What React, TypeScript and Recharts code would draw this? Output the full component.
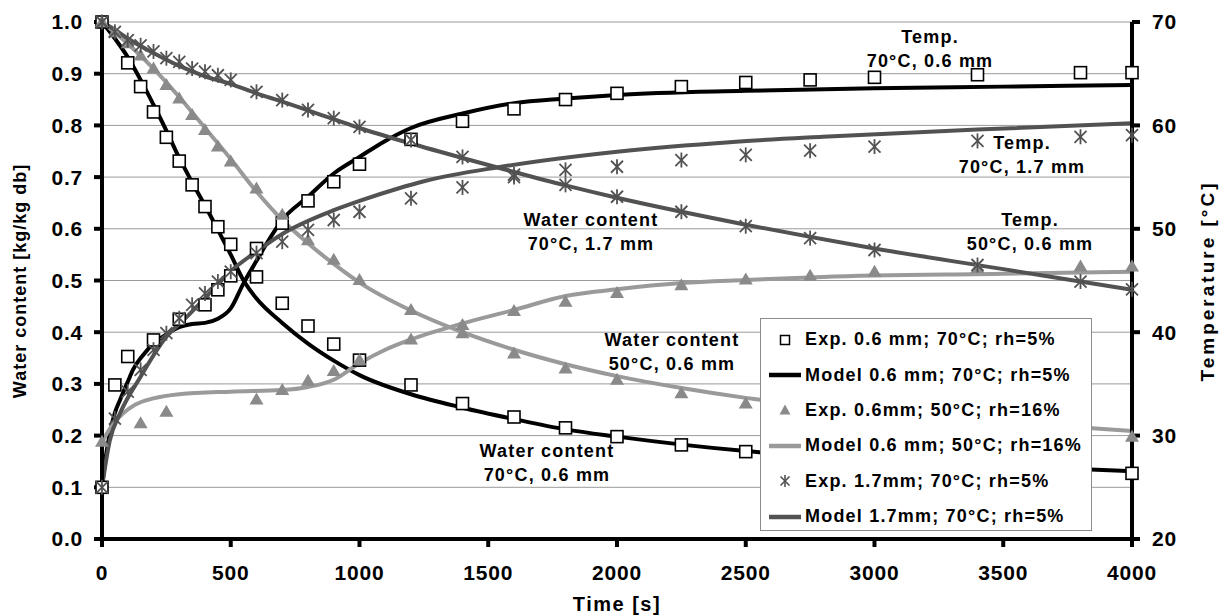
import React from "react";
import { ComposedChart, Line, Scatter, XAxis, YAxis, CartesianGrid } from "recharts";

// ---------- data (time [s], value) ----------
// Water content [kg/kg db] on left axis, temperature [°C] on right axis
const exp06_70_wc: [number, number][] = [
  [0, 1.0], [100, 0.921], [150, 0.875], [200, 0.826], [250, 0.777], [300, 0.731], [350, 0.685],
  [400, 0.643], [450, 0.604], [500, 0.57], [600, 0.507], [700, 0.456], [800, 0.412], [900, 0.377],
  [1000, 0.346], [1200, 0.298], [1400, 0.262], [1600, 0.236], [1800, 0.215], [2000, 0.198],
  [2250, 0.182], [2500, 0.169], [2750, 0.158], [3000, 0.15], [3400, 0.14], [3800, 0.132], [4000, 0.127],
];
const exp06_70_T: [number, number][] = [
  [0, 25], [50, 34.9], [100, 37.65], [200, 39.25], [300, 41.25], [400, 42.65], [450, 44.1],
  [500, 45.45], [600, 48.1], [700, 50.55], [800, 52.7], [900, 54.55], [1000, 56.25], [1200, 58.65],
  [1400, 60.4], [1600, 61.6], [1800, 62.5], [2000, 63.1], [2250, 63.75], [2500, 64.15], [2750, 64.4],
  [3000, 64.65], [3400, 64.9], [3800, 65.1], [4000, 65.1],
];
const model06_70_wc: [number, number][] = [
  [0, 1.0], [50, 0.968], [100, 0.932], [150, 0.888], [200, 0.84], [250, 0.79], [300, 0.737],
  [350, 0.69], [400, 0.645], [450, 0.598], [500, 0.55], [550, 0.5], [600, 0.465], [700, 0.418],
  [800, 0.378], [900, 0.345], [1000, 0.317], [1200, 0.28], [1400, 0.254], [1600, 0.232],
  [1800, 0.212], [2000, 0.198], [2500, 0.17], [3000, 0.153], [3500, 0.141], [4000, 0.131],
];
const model06_70_T: [number, number][] = [
  [0, 25], [15, 28], [30, 30.2], [50, 32.2], [70, 33.45], [100, 35.2], [120, 36.35], [160, 37.8],
  [200, 38.9], [250, 39.8], [300, 40.5], [350, 40.8], [400, 40.9], [450, 41.3], [500, 42.3],
  [550, 44.75], [600, 46.9], [640, 48.6], [700, 50.85], [800, 53.1], [900, 55.35], [1000, 56.95],
  [1100, 58.5], [1200, 59.75], [1400, 61.15], [1600, 62.15], [1800, 62.6], [2000, 62.95],
  [2500, 63.35], [3000, 63.6], [3500, 63.75], [4000, 63.9],
];
const exp06_50_wc: [number, number][] = [
  [0, 1.0], [50, 0.98], [100, 0.959], [150, 0.935], [200, 0.91], [250, 0.878], [300, 0.852],
  [350, 0.82], [400, 0.791], [450, 0.759], [500, 0.73], [600, 0.678], [700, 0.627], [800, 0.578],
  [900, 0.54], [1000, 0.501], [1200, 0.443], [1400, 0.398], [1600, 0.359], [1800, 0.33],
  [2000, 0.308], [2250, 0.282], [2500, 0.262], [2750, 0.245], [3000, 0.232], [3400, 0.218],
  [3800, 0.205], [4000, 0.198],
];
const exp06_50_T: [number, number][] = [
  [0, 29.4], [150, 31.2], [250, 32.3], [600, 33.5], [700, 34.4], [800, 35.3], [900, 36.25],
  [1000, 37.3], [1200, 39.3], [1400, 40.7], [1600, 42.05], [1800, 42.95], [2000, 43.8],
  [2250, 44.55], [2500, 45.1], [2750, 45.45], [3000, 45.85], [3400, 46.2], [3800, 46.35], [4000, 46.35],
];
const model06_50_wc: [number, number][] = [
  [0, 1.0], [100, 0.958], [200, 0.91], [300, 0.855], [400, 0.795], [500, 0.735], [600, 0.672],
  [700, 0.617], [800, 0.572], [900, 0.532], [1000, 0.496], [1200, 0.442], [1400, 0.4], [1600, 0.366],
  [1800, 0.338], [2000, 0.315], [2250, 0.292], [2500, 0.273], [3000, 0.247], [3500, 0.226], [4000, 0.209],
];
const model06_50_T: [number, number][] = [
  [0, 29.4], [40, 31.0], [80, 32.1], [130, 33.0], [200, 33.6], [300, 34.0], [500, 34.25],
  [700, 34.4], [800, 34.7], [900, 35.4], [1000, 37.0], [1100, 38.3], [1200, 39.3], [1400, 40.85],
  [1600, 42.15], [1800, 43.5], [2000, 44.15], [2250, 44.75], [2500, 45.05], [2800, 45.35],
  [3500, 45.65], [4000, 45.85],
];
const exp17_70_wc: [number, number][] = [
  [0, 1.0], [50, 0.981], [100, 0.965], [150, 0.955], [200, 0.943], [250, 0.93], [300, 0.923],
  [350, 0.91], [400, 0.904], [450, 0.897], [500, 0.888], [600, 0.865], [700, 0.849], [800, 0.83],
  [900, 0.814], [1000, 0.797], [1200, 0.772], [1400, 0.739], [1600, 0.705], [1800, 0.685],
  [2000, 0.662], [2250, 0.633], [2500, 0.605], [2750, 0.582], [3000, 0.559], [3400, 0.53],
  [3800, 0.498], [4000, 0.483],
];
const exp17_70_T: [number, number][] = [
  [0, 25], [50, 31.65], [100, 34.25], [150, 36.35], [200, 38.3], [250, 39.9], [300, 41.35],
  [350, 42.65], [400, 43.75], [450, 44.9], [500, 45.85], [600, 47.65], [700, 48.75], [800, 49.9],
  [900, 50.85], [1000, 51.65], [1200, 52.95], [1400, 54.0], [1600, 55.0], [1800, 55.7], [2000, 56.0],
  [2250, 56.65], [2500, 57.15], [2750, 57.55], [3000, 57.95], [3400, 58.5], [3800, 58.9], [4000, 59.05],
];
const model17_70_wc: [number, number][] = [
  [0, 1.0], [50, 0.985], [100, 0.968], [200, 0.94], [300, 0.915], [400, 0.895], [500, 0.88],
  [600, 0.862], [700, 0.846], [800, 0.829], [900, 0.812], [1000, 0.795], [1200, 0.765],
  [1400, 0.737], [1600, 0.71], [1800, 0.684], [2000, 0.66], [2500, 0.608], [3000, 0.562],
  [3500, 0.522], [4000, 0.482],
];
const model17_70_T: [number, number][] = [
  [0, 25], [30, 29.5], [70, 32.15], [150, 35.7], [250, 39.55], [330, 41.5], [400, 43.3],
  [500, 45.9], [600, 47.8], [700, 49.5], [900, 51.8], [1000, 52.7], [1150, 53.9], [1250, 54.6],
  [1550, 56.0], [2000, 57.45], [2450, 58.4], [2800, 58.9], [3400, 59.6], [4000, 60.2],
];

const xTicks = [0, 500, 1000, 1500, 2000, 2500, 3000, 3500, 4000];
const leftTicks = [0, 0.1, 0.2, 0.3, 0.4, 0.5, 0.6, 0.7, 0.8, 0.9, 1.0];
const rightTicks = [20, 30, 40, 50, 60, 70];

const legendItems = [
  { name: "Exp. 0.6 mm; 70°C; rh=5%", kind: "square" },
  { name: "Model 0.6 mm; 70°C; rh=5%", kind: "line", color: "#000000" },
  { name: "Exp. 0.6mm; 50°C; rh=16%", kind: "triangle" },
  { name: "Model 0.6 mm; 50°C; rh=16%", kind: "line", color: "#9a9a9a" },
  { name: "Exp. 1.7mm; 70°C; rh=5%", kind: "star" },
  { name: "Model 1.7mm; 70°C; rh=5%", kind: "line", color: "#525252" },
];

const annotationTexts = [
  ["Temp.", "70°C, 0.6 mm"],
  ["Temp.", "70°C, 1.7 mm"],
  ["Temp.", "50°C, 0.6 mm"],
  ["Water content", "70°C, 1.7 mm"],
  ["Water content", "50°C, 0.6 mm"],
  ["Water content", "70°C, 0.6 mm"],
];
// layout (pixel centres of the annotation blocks)
const annotationPos = [
  { x: 930, y: 49 },
  { x: 1022, y: 155 },
  { x: 1030, y: 232 },
  { x: 591, y: 232 },
  { x: 672, y: 352 },
  { x: 547, y: 463 },
];

const toPts = (arr: [number, number][]) => arr.map(([t, v]) => ({ t, v }));

const FONT = '"Liberation Sans", Arial, Helvetica, sans-serif';
const BLACK = "#000000";
const GREY_TRI = "#8a8a8a";
const GREY_LIGHT = "#9a9a9a";
const GREY_DARK = "#525252";

const SquareShape = (p: any) => {
  const { cx, cy } = p;
  if (cx == null || cy == null) return null;
  return <rect x={cx - 6} y={cy - 6} width={12} height={12} fill="#fff" stroke={BLACK} strokeWidth={1.6} />;
};
const TriangleShape = (p: any) => {
  const { cx, cy } = p;
  if (cx == null || cy == null) return null;
  return <polygon points={`${cx},${cy - 7} ${cx + 7},${cy + 5} ${cx - 7},${cy + 5}`} fill={GREY_TRI} />;
};
const StarShape = (p: any) => {
  const { cx, cy } = p;
  if (cx == null || cy == null) return null;
  return (
    <g stroke={GREY_DARK} strokeWidth={1.8}>
      <line x1={cx - 6} y1={cy - 6} x2={cx + 6} y2={cy + 6} />
      <line x1={cx - 6} y1={cy + 6} x2={cx + 6} y2={cy - 6} />
      <line x1={cx} y1={cy - 7.5} x2={cx} y2={cy + 7.5} />
    </g>
  );
};

const tickStyle = { fontSize: 21, fontWeight: "bold", fill: "#000", fontFamily: FONT, letterSpacing: 0.8 } as any;

function LegendIcon({ kind, color }: { kind: string; color?: string }) {
  return (
    <svg width={36} height={20} style={{ display: "block" }}>
      {kind === "square" && <rect x={13.5} y={5.5} width={9} height={9} fill="#fff" stroke="#000" strokeWidth={1.5} />}
      {kind === "line" && <line x1={2} y1={10} x2={34} y2={10} stroke={color} strokeWidth={4.5} />}
      {kind === "triangle" && <polygon points="18,4.5 23.5,14.5 12.5,14.5" fill={GREY_TRI} />}
      {kind === "star" && (
        <g stroke={GREY_DARK} strokeWidth={1.6}>
          <line x1={13.5} y1={5.5} x2={22.5} y2={14.5} />
          <line x1={13.5} y1={14.5} x2={22.5} y2={5.5} />
          <line x1={18} y1={4} x2={18} y2={16} />
        </g>
      )}
    </svg>
  );
}

export default function App() {
  const textBase: React.CSSProperties = {
    position: "absolute",
    fontFamily: FONT,
    fontWeight: "bold",
    color: "#000",
    whiteSpace: "nowrap",
  };
  return (
    <div style={{ position: "absolute", left: 0, top: 0, width: 1222, height: 616, background: "#fff" }}>
      <ComposedChart width={1222} height={616} margin={{ top: 22, right: 0, bottom: 0, left: 0 }}>
        <CartesianGrid yAxisId="left" vertical={false} stroke="#9a9a9a" strokeWidth={1} horizontalValues={leftTicks} />
        <XAxis
          dataKey="t"
          type="number"
          domain={[0, 4000]}
          ticks={xTicks}
          height={77}
          tick={tickStyle}
          tickSize={8}
          tickMargin={18}
          axisLine={{ stroke: "#000", strokeWidth: 4 }}
          tickLine={{ stroke: "#000", strokeWidth: 4 }}
          interval={0}
          allowDuplicatedCategory={false}
        />
        <YAxis
          yAxisId="left"
          dataKey="v"
          type="number"
          domain={[0, 1]}
          ticks={leftTicks}
          tickFormatter={(v: number) => v.toFixed(1)}
          width={102}
          tick={tickStyle}
          tickSize={8}
          tickMargin={11}
          axisLine={{ stroke: "#000", strokeWidth: 4 }}
          tickLine={{ stroke: "#000", strokeWidth: 4 }}
          interval={0}
        />
        <YAxis
          yAxisId="right"
          orientation="right"
          dataKey="v"
          type="number"
          domain={[20, 70]}
          ticks={rightTicks}
          width={90}
          tick={tickStyle}
          tickSize={8}
          tickMargin={12}
          axisLine={{ stroke: "#000", strokeWidth: 4 }}
          tickLine={{ stroke: "#000", strokeWidth: 4 }}
          interval={0}
        />

        {/* series 1 */}
        <Scatter yAxisId="left" data={toPts(exp06_70_wc)} shape={SquareShape} isAnimationActive={false} />
        <Scatter yAxisId="right" data={toPts(exp06_70_T)} shape={SquareShape} isAnimationActive={false} />
        <Line yAxisId="left" data={toPts(model06_70_wc)} dataKey="v" type="monotone" stroke={BLACK} strokeWidth={4} dot={false} isAnimationActive={false} />
        <Line yAxisId="right" data={toPts(model06_70_T)} dataKey="v" type="monotone" stroke={BLACK} strokeWidth={4} dot={false} isAnimationActive={false} />

        {/* series 2 */}
        <Scatter yAxisId="left" data={toPts(exp06_50_wc)} shape={TriangleShape} isAnimationActive={false} />
        <Scatter yAxisId="right" data={toPts(exp06_50_T)} shape={TriangleShape} isAnimationActive={false} />
        <Line yAxisId="left" data={toPts(model06_50_wc)} dataKey="v" type="monotone" stroke={GREY_LIGHT} strokeWidth={4} dot={false} isAnimationActive={false} />
        <Line yAxisId="right" data={toPts(model06_50_T)} dataKey="v" type="monotone" stroke={GREY_LIGHT} strokeWidth={4} dot={false} isAnimationActive={false} />

        {/* series 3 */}
        <Scatter yAxisId="left" data={toPts(exp17_70_wc)} shape={StarShape} isAnimationActive={false} />
        <Scatter yAxisId="right" data={toPts(exp17_70_T)} shape={StarShape} isAnimationActive={false} />
        <Line yAxisId="left" data={toPts(model17_70_wc)} dataKey="v" type="monotone" stroke={GREY_DARK} strokeWidth={4} dot={false} isAnimationActive={false} />
        <Line yAxisId="right" data={toPts(model17_70_T)} dataKey="v" type="monotone" stroke={GREY_DARK} strokeWidth={4} dot={false} isAnimationActive={false} />
      </ComposedChart>

      {/* annotations */}
      {annotationTexts.map((lines, i) => (
        <div
          key={i}
          style={{
            ...textBase,
            left: annotationPos[i].x,
            top: annotationPos[i].y,
            transform: "translate(-50%, -50%)",
            fontSize: 18,
            letterSpacing: 1.2,
            lineHeight: "23.5px",
            textAlign: "center",
          }}
        >
          {lines.map((l, j) => (
            <div key={j}>{l}</div>
          ))}
        </div>
      ))}

      {/* legend */}
      <div
        style={{
          position: "absolute",
          left: 760,
          top: 318,
          width: 332,
          height: 213,
          background: "#fff",
          border: "1px solid #8c8c8c",
          boxSizing: "border-box",
          paddingTop: 3,
        }}
      >
        {legendItems.map((it, i) => (
          <div key={i} style={{ display: "flex", alignItems: "center", height: 35.4 }}>
            <div style={{ width: 44, paddingLeft: 6, boxSizing: "border-box" }}>
              <LegendIcon kind={it.kind} color={(it as any).color} />
            </div>
            <div style={{ fontFamily: FONT, fontWeight: "bold", fontSize: 18, letterSpacing: 1.2, whiteSpace: "nowrap", marginLeft: 0 }}>
              {it.name}
            </div>
          </div>
        ))}
      </div>

      {/* axis titles */}
      <div style={{ ...textBase, left: 617, top: 604, transform: "translate(-50%, -50%)", fontSize: 20, letterSpacing: 1.5 }}>
        Time [s]
      </div>
      <div
        style={{
          ...textBase,
          left: 20,
          top: 281,
          transform: "translate(-50%, -50%) rotate(-90deg)",
          fontSize: 18,
          letterSpacing: 1,
        }}
      >
        Water content [kg/kg db]
      </div>
      <div
        style={{
          ...textBase,
          left: 1208,
          top: 281,
          transform: "translate(-50%, -50%) rotate(-90deg)",
          fontSize: 19,
          letterSpacing: 3,
        }}
      >
        Temperature [°C]
      </div>
    </div>
  );
}
